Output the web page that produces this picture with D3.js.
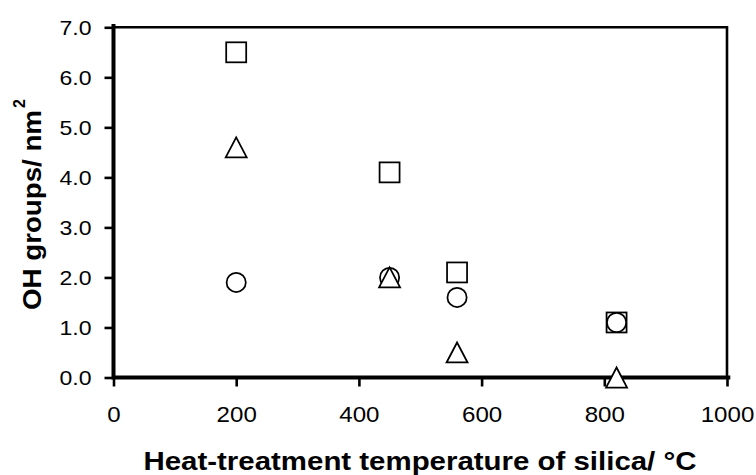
<!DOCTYPE html>
<html>
<head>
<meta charset="utf-8">
<script src="https://cdn.jsdelivr.net/npm/d3@7"></script>
<style>
  html, body { margin: 0; padding: 0; background: #fff; }
  svg { display: block; }
  text { font-family: "Liberation Sans", Arial, sans-serif; fill: #000; }
</style>
</head>
<body>
<svg id="chart" width="756" height="475"></svg>
<script>
// Heat-treatment temperature (°C) of each silica sample
const temperatures = [200, 450, 560, 820];
// OH group density (groups per nm²) for the three series
const squareValues   = [6.5, 4.1, 2.1, 1.1];
const circleValues   = [1.9, 2.0, 1.6, 1.1];
const triangleValues = [4.6, 2.0, 0.5, 0.0];

const xTicks = [0, 200, 400, 600, 800, 1000];
const yTicks = [0, 1, 2, 3, 4, 5, 6, 7];

const svg = d3.select("#chart");

const x = d3.scaleLinear().domain([0, 1000]).range([113.5, 727]);
const y = d3.scaleLinear().domain([0, 7]).range([377.5, 27.3]);

// Thin top and right border of the plot area
svg.append("path")
  .attr("d", `M${x(0)},${y(7)}H${x(1000)}V${y(0)}`)
  .attr("fill", "none").attr("stroke", "#000").attr("stroke-width", 2.6);

// Y axis
const yAxis = svg.append("g")
  .attr("transform", `translate(${x(0)},0)`)
  .call(d3.axisLeft(y).tickValues(yTicks).tickSize(9).tickPadding(13)
        .tickFormat(d3.format(".1f")));
yAxis.select(".domain").remove();
yAxis.selectAll(".tick line").attr("stroke-width", 2.6);
yAxis.selectAll(".tick text")
  .style("font-size", "21px")
  .attr("textLength", 32).attr("lengthAdjust", "spacingAndGlyphs");

// X axis
const xAxis = svg.append("g")
  .attr("transform", `translate(0,${y(0)})`)
  .call(d3.axisBottom(x).tickValues(xTicks).tickSize(9).tickPadding(19.6)
        .tickFormat(d3.format("d")));
xAxis.select(".domain").remove();
xAxis.selectAll(".tick line").attr("stroke-width", 2.6);
xAxis.selectAll(".tick text")
  .style("font-size", "22px")
  .attr("textLength", d => String(d).length * 13.4)
  .attr("lengthAdjust", "spacingAndGlyphs");

// Thick left and bottom axis lines
svg.append("path")
  .attr("d", `M${x(0)},${y(7) - 1.3}V${y(0)}H${x(1000) + 1.3}`)
  .attr("fill", "none").attr("stroke", "#000").attr("stroke-width", 4)
  .attr("stroke-linecap", "square");

// Markers: hollow squares, circles, triangles
const markerStroke = 1.75;
const half = 10;
const pts = (vals) => temperatures.map((t, i) => ({ t, v: vals[i] }));

svg.append("g").selectAll("rect").data(pts(squareValues)).join("rect")
  .attr("x", d => x(d.t) - half).attr("y", d => y(d.v) - half)
  .attr("width", half * 2).attr("height", half * 2)
  .attr("fill", "#fff").attr("stroke", "#000").attr("stroke-width", markerStroke);

svg.append("g").selectAll("circle").data(pts(circleValues)).join("circle")
  .attr("cx", d => x(d.t)).attr("cy", d => y(d.v)).attr("r", 9.6)
  .attr("fill", "#fff").attr("stroke", "#000").attr("stroke-width", markerStroke);

svg.append("g").selectAll("path").data(pts(triangleValues)).join("path")
  .attr("d", d => {
    const cx = x(d.t), cy = y(d.v);
    return `M${cx},${cy - 10}L${cx + 10.5},${cy + 10}L${cx - 10.5},${cy + 10}Z`;
  })
  .attr("fill", "#fff").attr("stroke", "#000").attr("stroke-width", markerStroke)
  .attr("stroke-linejoin", "miter");

// Axis titles
svg.append("text")
  .attr("x", 420).attr("y", 469.5)
  .attr("text-anchor", "middle")
  .style("font-size", "25px").style("font-weight", "bold")
  .attr("textLength", 553).attr("lengthAdjust", "spacingAndGlyphs")
  .text("Heat-treatment temperature of silica/ °C");

const yTitle = svg.append("g").attr("transform", "translate(41,310) rotate(-90)");
yTitle.append("text")
  .attr("x", 0).attr("y", 0)
  .style("font-size", "26px").style("font-weight", "bold")
  .attr("textLength", 200).attr("lengthAdjust", "spacingAndGlyphs")
  .text("OH groups/ nm");
yTitle.append("text")
  .attr("x", 202).attr("y", -16)
  .style("font-size", "16px").style("font-weight", "bold")
  .text("2");
</script>
</body>
</html>
